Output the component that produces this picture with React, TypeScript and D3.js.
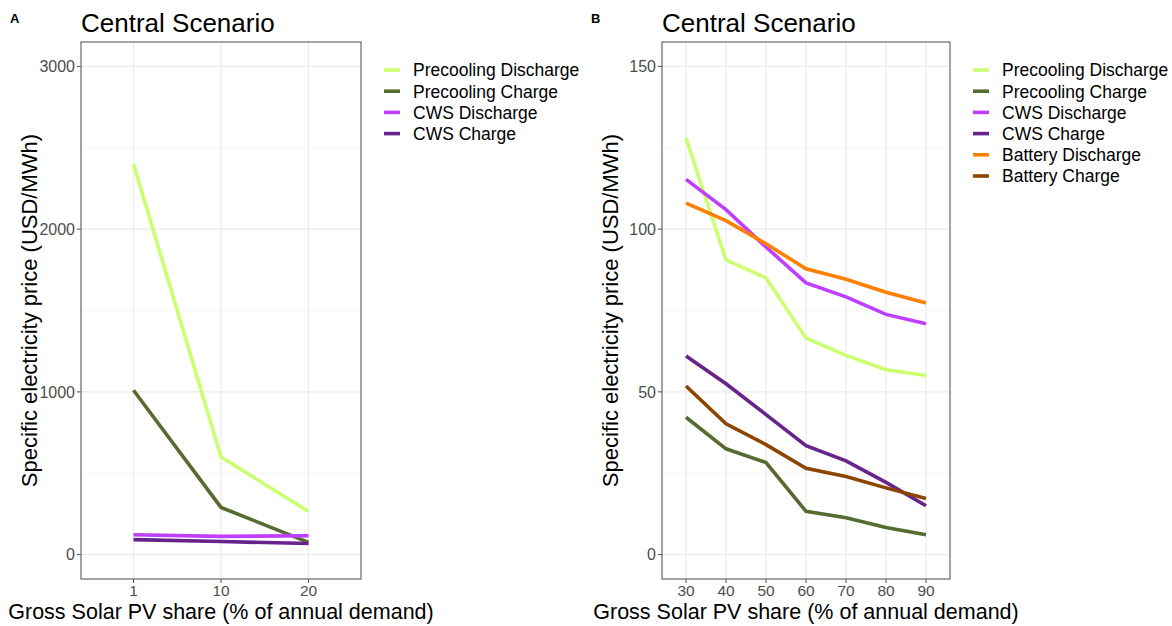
import React from "react";
import * as d3 from "d3";

// panel A: low PV shares
const sharesA = ["1", "10", "20"];
const precoolDischargeA = [2400, 600, 265];
const precoolChargeA = [1010, 290, 75];
const cwsDischargeA = [122, 112, 116];
const cwsChargeA = [92, 80, 68];

// panel B: high PV shares
const sharesB = ["30", "40", "50", "60", "70", "80", "90"];
const precoolDischargeB = [128, 90.5, 85, 66.5, 61.2, 56.8, 55];
const precoolChargeB = [42.2, 32.5, 28.3, 13.3, 11.3, 8.3, 6.1];
const cwsDischargeB = [115.3, 106, 94.5, 83.5, 79.2, 73.8, 70.9];
const cwsChargeB = [61, 52.5, 43, 33.5, 28.8, 22.2, 15];
const batteryDischargeB = [108, 102.6, 95.5, 87.8, 84.6, 80.6, 77.3];
const batteryChargeB = [51.8, 40.2, 33.8, 26.5, 24, 20.5, 17.2];

const ticksA = [0, 1000, 2000, 3000];
const minorA = [500, 1500, 2500];
const ticksB = [0, 50, 100, 150];
const minorB = [25, 75, 125];

const colors: { [k: string]: string } = {
  "Precooling Discharge": "#caff70",
  "Precooling Charge": "#556b2f",
  "CWS Discharge": "#bf3eff",
  "CWS Charge": "#68228b",
  "Battery Discharge": "#ff7f00",
  "Battery Charge": "#8b4500",
};

interface Series {
  name: string;
  values: number[];
}

interface PanelProps {
  tag: string;
  left: number;
  right: number;
  shares: string[];
  yDomain: [number, number];
  ticks: number[];
  minor: number[];
  series: Series[];
  legendX: number;
}

const FONT = "'Liberation Sans', Arial, Helvetica, sans-serif";
const TOP = 42;
const BOTTOM = 579;

const Panel: React.FC<PanelProps> = ({
  tag,
  left,
  right,
  shares,
  yDomain,
  ticks,
  minor,
  series,
  legendX,
}) => {
  const x = d3.scalePoint<string>().domain(shares).range([left, right]).padding(0.6);
  const y = d3.scaleLinear().domain(yDomain).range([BOTTOM, TOP]);
  const line = d3
    .line<number>()
    .x((_, i) => x(shares[i]) as number)
    .y((d) => y(d));
  const mid = (left + right) / 2;

  return (
    <g>
      <text x={left - 71} y={23} fontSize={13} fontWeight="bold" fontFamily={FONT}>
        {tag}
      </text>
      <text x={left} y={32} fontSize={26} fontFamily={FONT} fill="#000">
        Central Scenario
      </text>
      <rect x={left} y={TOP} width={right - left} height={BOTTOM - TOP} fill="#fff" />
      {minor.map((t) => (
        <line key={"mn" + t} x1={left} x2={right} y1={y(t)} y2={y(t)} stroke="#f2f2f2" strokeWidth={0.8} />
      ))}
      {ticks.map((t) => (
        <line key={"mj" + t} x1={left} x2={right} y1={y(t)} y2={y(t)} stroke="#ebebeb" strokeWidth={1.2} />
      ))}
      {shares.map((s) => (
        <line key={"vx" + s} x1={x(s)} x2={x(s)} y1={TOP} y2={BOTTOM} stroke="#ebebeb" strokeWidth={1.2} />
      ))}
      {series.map((s) => (
        <path
          key={s.name}
          d={line(s.values) || ""}
          fill="none"
          stroke={colors[s.name]}
          strokeWidth={3.6}
        />
      ))}
      <rect x={left} y={TOP} width={right - left} height={BOTTOM - TOP} fill="none" stroke="#5a5a5a" strokeWidth={1.1} />
      {ticks.map((t) => (
        <g key={"yt" + t}>
          <line x1={left - 4} x2={left} y1={y(t)} y2={y(t)} stroke="#5a5a5a" strokeWidth={1.1} />
          <text
            x={left - 6}
            y={y(t)}
            dy="0.36em"
            textAnchor="end"
            fontSize={16}
            fill="#4d4d4d"
            fontFamily={FONT}
          >
            {t}
          </text>
        </g>
      ))}
      {shares.map((s) => (
        <g key={"xt" + s}>
          <line x1={x(s)} x2={x(s)} y1={BOTTOM} y2={BOTTOM + 4} stroke="#5a5a5a" strokeWidth={1.1} />
          <text x={x(s)} y={596} textAnchor="middle" fontSize={15.5} fill="#4d4d4d" fontFamily={FONT}>
            {s}
          </text>
        </g>
      ))}
      <text x={mid} y={619} textAnchor="middle" fontSize={21.5} fill="#000" fontFamily={FONT}>
        Gross Solar PV share (% of annual demand)
      </text>
      <text
        transform={`translate(${left - 44},${(TOP + BOTTOM) / 2}) rotate(-90)`}
        textAnchor="middle"
        fontSize={22}
        fill="#000"
        fontFamily={FONT}
      >
        Specific electricity price (USD/MWh)
      </text>
      {series.map((s, i) => (
        <g key={"lg" + s.name} transform={`translate(${legendX},${70 + i * 21.2})`}>
          <line x1={0} x2={16} y1={0} y2={0} stroke={colors[s.name]} strokeWidth={3.6} />
          <text x={29} y={0} dy="0.36em" fontSize={17.5} fill="#000" fontFamily={FONT}>
            {s.name}
          </text>
        </g>
      ))}
    </g>
  );
};

export default function App() {
  const seriesA: Series[] = [
    { name: "Precooling Discharge", values: precoolDischargeA },
    { name: "Precooling Charge", values: precoolChargeA },
    { name: "CWS Discharge", values: cwsDischargeA },
    { name: "CWS Charge", values: cwsChargeA },
  ];
  const seriesB: Series[] = [
    { name: "Precooling Discharge", values: precoolDischargeB },
    { name: "Precooling Charge", values: precoolChargeB },
    { name: "CWS Discharge", values: cwsDischargeB },
    { name: "CWS Charge", values: cwsChargeB },
    { name: "Battery Discharge", values: batteryDischargeB },
    { name: "Battery Charge", values: batteryChargeB },
  ];

  return (
    <svg
      width={1172}
      height={626}
      style={{ position: "absolute", left: 0, top: 0, background: "#fff" }}
    >
      <Panel
        tag="A"
        left={81}
        right={361}
        shares={sharesA}
        yDomain={[-150, 3150]}
        ticks={ticksA}
        minor={minorA}
        series={seriesA}
        legendX={384}
      />
      <Panel
        tag="B"
        left={662}
        right={950}
        shares={sharesB}
        yDomain={[-7.5, 157.5]}
        ticks={ticksB}
        minor={minorB}
        series={seriesB}
        legendX={973}
      />
    </svg>
  );
}
